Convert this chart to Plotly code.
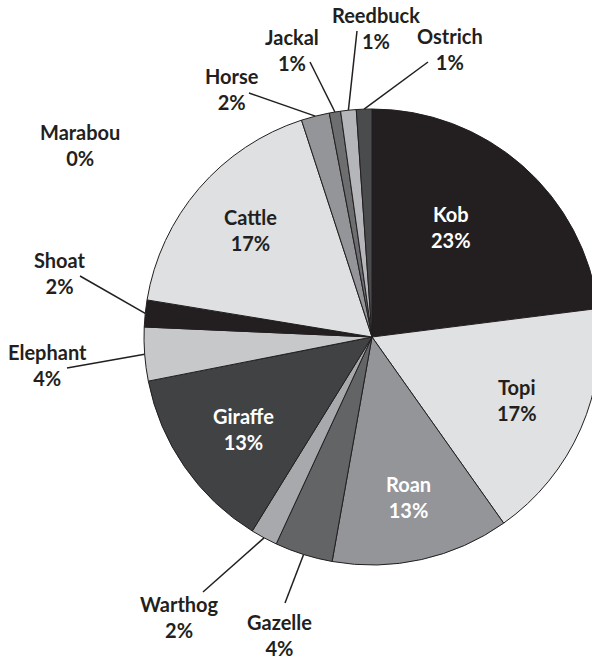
import math

import plotly.graph_objects as go

# data (percent of sightings)
species = ["Kob", "Topi", "Roan", "Gazelle", "Warthog", "Giraffe", "Elephant",
           "Shoat", "Marabou", "Cattle", "Horse", "Jackal", "Reedbuck", "Ostrich"]
share = [23.0, 17.2, 12.6, 4.1, 1.9, 13.1, 3.8, 1.9, 0.0, 17.4, 2.0, 0.8, 1.1, 1.1]

# styling
slice_colors = ["#231f20", "#e0e1e2", "#939598", "#636466", "#a7a9ac", "#414244", "#c7c8ca",
                "#231f20", "#e0e1e2", "#dfe0e1", "#939598", "#6d6e70", "#b4b6b9", "#4a4b4d"]
DARK = "#231f20"
W, H = 600, 661
CX, CY, R = 372, 337, 228  # pie centre / radius in pixels

# label centres (pixels from top-left), leader-line outer ends
label_pos = {
    "Kob": (451, 227), "Topi": (517, 400), "Roan": (408, 497), "Giraffe": (243, 429),
    "Cattle": (250, 230), "Gazelle": (279, 635), "Warthog": (179, 617),
    "Elephant": (47, 365), "Shoat": (60, 273), "Marabou": (80, 145), "Horse": (232, 89),
    "Jackal": (292, 50), "Reedbuck": (376, 28), "Ostrich": (450, 49),
}
leader_end = {
    "Reedbuck": (357, 31), "Jackal": (310, 62), "Ostrich": (428, 62), "Horse": (249, 93),
    "Shoat": (80, 276), "Elephant": (67, 368), "Warthog": (203, 592), "Gazelle": (285, 603),
}
white_text = {"Kob", "Roan", "Giraffe"}


def px(x, y):
    return x / W, 1 - y / H


fig = go.Figure(go.Pie(
    labels=species, values=share, sort=False, direction="clockwise", rotation=0,
    marker=dict(colors=slice_colors, line=dict(color=DARK, width=1)),
    textinfo="none", hoverinfo="label+percent", showlegend=False,
    domain=dict(x=[(CX - R) / W, 1], y=[(H - CY - R) / H, (H - CY + R) / H]),
))

total = sum(share)
cum = 0.0
annotations, shapes = [], []
for name, v in zip(species, share):
    mid = (cum + v / 2) / total * 2 * math.pi
    cum += v
    pct = round(v / total * 100)
    lx, ly = px(*label_pos[name])
    annotations.append(dict(
        x=lx, y=ly, xref="paper", yref="paper", xanchor="center", yanchor="middle",
        showarrow=False, text=f"{name}<br>{pct}%", align="center",
        font=dict(family="Lato", size=20, weight="bold",
                  color="white" if name in white_text else DARK),
    ))
    if name in leader_end:
        ex, ey = px(CX + R * math.sin(mid), CY - R * math.cos(mid))
        ox, oy = px(*leader_end[name])
        shapes.append(dict(type="line", xref="paper", yref="paper",
                           x0=ex, y0=ey, x1=ox, y1=oy,
                           line=dict(color=DARK, width=1.5)))

fig.update_layout(
    width=W, height=H, margin=dict(l=0, r=0, t=0, b=0),
    paper_bgcolor="white", plot_bgcolor="white",
    annotations=annotations, shapes=shapes,
)
fig.write_html("out.html", config={"displayModeBar": False},
               post_script="document.body.style.margin='0';document.body.style.overflow='hidden';")
